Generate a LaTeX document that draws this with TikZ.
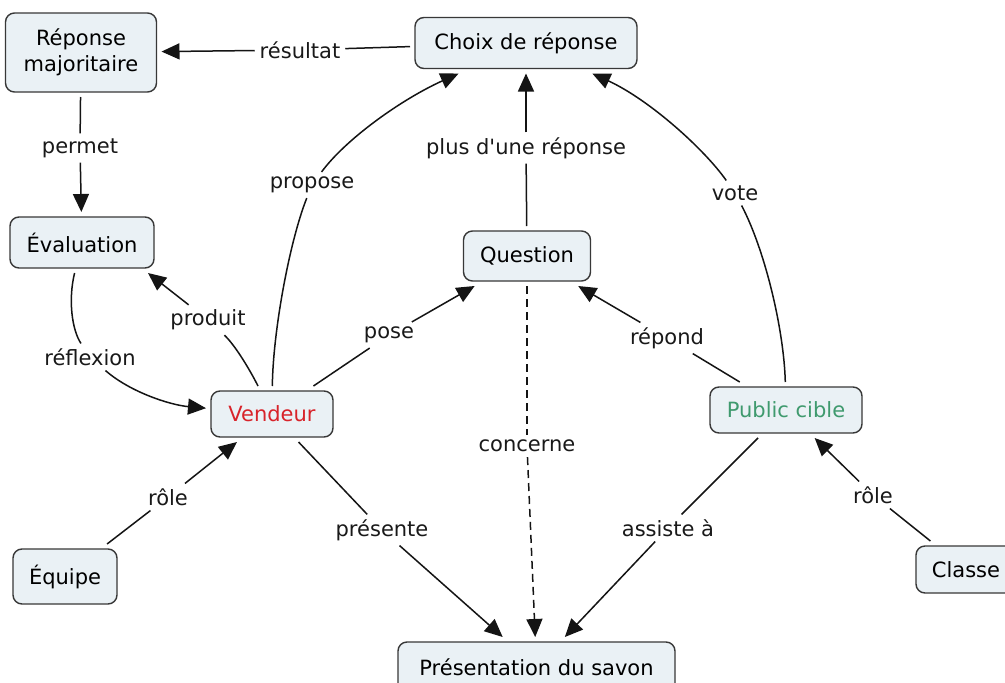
\documentclass[tikz,border=0pt]{standalone}
\usepackage{fontspec}
\setmainfont{DejaVu Sans}
\newfontfamily\plainfont{DejaVu Sans}
\usetikzlibrary{arrows.meta}
\definecolor{boxfill}{HTML}{EAF1F5}
\definecolor{boxline}{HTML}{383838}
\definecolor{vendred}{HTML}{D8232A}
\definecolor{pubgreen}{HTML}{3F9A6E}
\definecolor{linkcol}{HTML}{141414}
\begin{document}
\begin{tikzpicture}[x=1pt,y=-1pt,
  font=\fontsize{21}{26}\selectfont,
  concept/.style={draw=boxline, line width=1.4pt, fill=boxfill, rounded corners=9pt,
    outer sep=5pt, inner sep=0pt, align=center},
  lab/.style={inner sep=3pt, outer sep=2pt, text=black!90},
  link/.style={line width=1.5pt, draw=linkcol},
  arr/.style={link, -{Triangle[length=18pt,width=16pt]}},
  dsh/.style={dash pattern=on 8pt off 5pt}]
\path[use as bounding box, fill=white] (0,0) rectangle (1005,683);
\clip (0,0) rectangle (1005,683);

% concepts
\node[concept, minimum width=151pt, minimum height=79pt] (rep) at (81,52.5) {Réponse\\majoritaire};
\node[concept, minimum width=222pt, minimum height=51pt] (choix) at (526,43) {Choix de réponse};
\node[concept, minimum width=144pt, minimum height=51pt] (eval) at (82,242.5) {Évaluation};
\node[concept, minimum width=127pt, minimum height=50pt] (quest) at (527,256) {Question};
\node[concept, minimum width=122pt, minimum height=46pt, text=vendred] (vend) at (272,414) {Vendeur};
\node[concept, minimum width=152pt, minimum height=46pt, text=pubgreen] (pub) at (786,410) {Public cible};
\node[concept, minimum width=104pt, minimum height=55pt] (equipe) at (65,576.5) {Équipe};
\node[concept, minimum width=100pt, minimum height=47pt] (classe) at (966,569.5) {Classe};
\node[concept, minimum width=277pt, minimum height=50pt] (pres) at (536.5,667) {Présentation du savon};

% link labels
\node[lab] (lres) at (300,50) {résultat};
\node[lab] (lperm) at (80,148) {permet};
\node[lab] (lrefl) at (90,357) {réflexion};
\node[lab] (lprod) at (208,320) {produit};
\node[lab] (lprop) at (312,185) {propose};
\node[lab] (lpose) at (389,335) {pose};
\node[lab] (lplus) at (526,148) {plus d{\plainfont '}une réponse};
\node[lab] (lvote) at (735,193) {vote};
\node[lab] (lrep) at (667,338) {répond};
\node[lab] (lconc) at (527,446) {concerne};
\node[lab] (lpres) at (382,530) {présente};
\node[lab] (lass) at (668,528) {assiste à};
\node[lab] (lrole1) at (168,497) {rôle};
\node[lab] (lrole2) at (873,495) {rôle};

% links
\draw[link] (choix) -- (lres);
\draw[arr] (lres) -- (rep);
\draw[link] (rep) -- (lperm);
\draw[arr] (lperm) -- (eval);
\draw[link] (eval) .. controls (68,300) and (72,330) .. (lrefl);
\draw[arr] (lrefl) .. controls (130,392) and (170,405) .. (vend);
\draw[link] (vend) .. controls (250,370) and (235,345) .. (lprod);
\draw[arr] (lprod) -- ([xshift=-11pt]eval.south east);
\draw[link] (vend) .. controls (273,330) and (290,240) .. (lprop);
\draw[arr] (lprop) .. controls (345,140) and (400,100) .. (choix);
\draw[link] (vend) -- (lpose);
\draw[arr] (lpose) -- (quest);
\draw[link] (quest) -- (lplus);
\draw[arr] (lplus) -- (choix);
\draw[link] (pub) .. controls (784,330) and (765,250) .. (lvote);
\draw[arr] (lvote) .. controls (705,150) and (650,100) .. (choix);
\draw[link] (pub) -- (lrep);
\draw[arr] (lrep) -- (quest);
\draw[link, dsh] (quest) -- (lconc);
\draw[arr, dsh] (lconc) -- (pres);
\draw[link] (vend) -- (lpres);
\draw[arr] (lpres) -- (pres);
\draw[link] (pub) -- (lass);
\draw[arr] (lass) -- (pres);
\draw[link] (equipe) -- (lrole1);
\draw[arr] (lrole1) -- (vend);
\draw[link] (classe) -- (lrole2);
\draw[arr] (lrole2) -- (pub);
\end{tikzpicture}
\end{document}
